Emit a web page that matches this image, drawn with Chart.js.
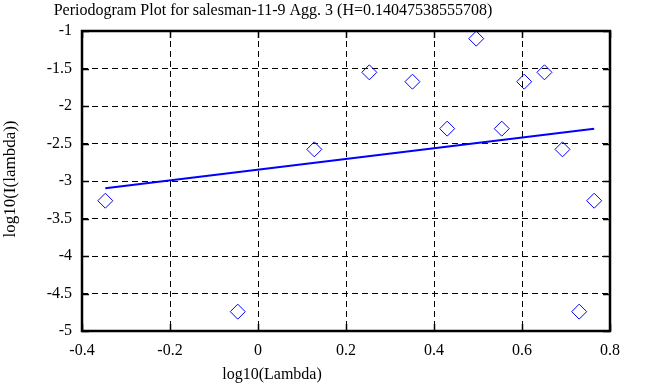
<!DOCTYPE html>
<html>
<head>
<meta charset="utf-8">
<script src="https://cdn.jsdelivr.net/npm/chart.js@4"></script>
<style>
  html, body { margin: 0; padding: 0; background: #fff; }
  #wrap { width: 663px; height: 387px; }
</style>
</head>
<body>
<div id="wrap"><canvas id="chart1" width="663" height="387"></canvas></div>
<script>
// periodogram points (log10 lambda, log10 I(lambda))
const logLambda = [-0.347, -0.046, 0.128, 0.253, 0.351, 0.430, 0.496, 0.554, 0.605, 0.651, 0.692, 0.730, 0.764];
const logI = [-3.263, -4.742, -2.578, -1.551, -1.676, -2.302, -1.102, -2.302, -1.676, -1.551, -2.578, -4.742, -3.263];

// fitted line end points
const fitX = [-0.347, 0.764];
const fitY = [-3.098, -2.302];

const xTicks = [-0.4, -0.2, 0, 0.2, 0.4, 0.6, 0.8];
const yTicks = [-5, -4.5, -4, -3.5, -3, -2.5, -2, -1.5, -1];

const titleText = "Periodogram Plot for salesman-11-9 Agg. 3 (H=0.14047538555708)";
const xTitle = "log10(Lambda)";
const yTitle = "log10(I(lambda))";

const FONT = "'Liberation Serif', 'Times New Roman', serif";

// frame, inward ticks and the texts
const framePlugin = {
  id: "frame",
  afterDraw(chart) {
    const { ctx, chartArea: a, scales } = chart;
    ctx.save();
    ctx.strokeStyle = "#000";
    ctx.lineWidth = 1.5;
    ctx.beginPath();
    xTicks.forEach((v) => {
      const px = Math.round(scales.x.getPixelForValue(v)) + 0.5;
      ctx.moveTo(px, a.top); ctx.lineTo(px, a.top + 7);
      ctx.moveTo(px, a.bottom); ctx.lineTo(px, a.bottom - 7);
    });
    yTicks.forEach((v) => {
      const py = Math.round(scales.y.getPixelForValue(v)) + 0.5;
      ctx.moveTo(a.left, py); ctx.lineTo(a.left + 7, py);
      ctx.moveTo(a.right, py); ctx.lineTo(a.right - 7, py);
    });
    ctx.stroke();
    ctx.lineWidth = 2.5;
    ctx.strokeRect(a.left, a.top, a.right - a.left, a.bottom - a.top);

    ctx.fillStyle = "#000";
    ctx.font = "16px " + FONT;
    ctx.textAlign = "center";
    ctx.textBaseline = "middle";
    ctx.fillText(titleText, 273, 11);
    ctx.fillText(xTitle, 272, 375);
    ctx.font = "17px " + FONT;
    ctx.translate(11, 179);
    ctx.rotate(-Math.PI / 2);
    ctx.fillText(yTitle, 0, 0);
    ctx.restore();
  },
};

new Chart(document.querySelector("#chart1"), {
  type: "scatter",
  data: {
    datasets: [
      {
        label: "periodogram",
        data: logLambda.map((x, i) => ({ x: x, y: logI[i] })),
        pointStyle: "rectRot",
        pointRadius: 7.5,
        pointHoverRadius: 7.5,
        borderColor: "#0000ff",
        backgroundColor: "rgba(0,0,0,0)",
        borderWidth: 1,
      },
      {
        label: "fit",
        type: "line",
        data: fitX.map((x, i) => ({ x: x, y: fitY[i] })),
        borderColor: "#0000ff",
        borderWidth: 2,
        pointRadius: 0,
        fill: false,
      },
    ],
  },
  options: {
    responsive: false,
    animation: false,
    events: [],
    layout: { padding: { top: 31, right: 53, left: 0, bottom: 0 } },
    plugins: {
      legend: { display: false },
      title: { display: false },
      tooltip: { enabled: false },
    },
    scales: {
      x: {
        type: "linear",
        min: -0.4,
        max: 0.8,
        afterBuildTicks: (s) => { s.ticks = xTicks.map((v) => ({ value: v })); },
        afterFit: (s) => { s.height = 56; },
        grid: { color: "#000", lineWidth: 1, drawTicks: false },
        border: { display: false, dash: [6, 4] },
        ticks: {
          padding: 10,
          color: "#000",
          font: { family: FONT, size: 16 },
          maxRotation: 0,
          callback: (v) => String(Math.round(v * 10) / 10),
        },
      },
      y: {
        type: "linear",
        min: -5,
        max: -1,
        afterBuildTicks: (s) => { s.ticks = yTicks.map((v) => ({ value: v })); },
        afterFit: (s) => { s.width = 82; },
        grid: { color: "#000", lineWidth: 1, drawTicks: false },
        border: { display: false, dash: [6, 4] },
        ticks: {
          padding: 10,
          color: "#000",
          font: { family: FONT, size: 16 },
          callback: (v) => String(Math.round(v * 10) / 10),
        },
      },
    },
  },
  plugins: [framePlugin],
});
</script>
</body>
</html>
